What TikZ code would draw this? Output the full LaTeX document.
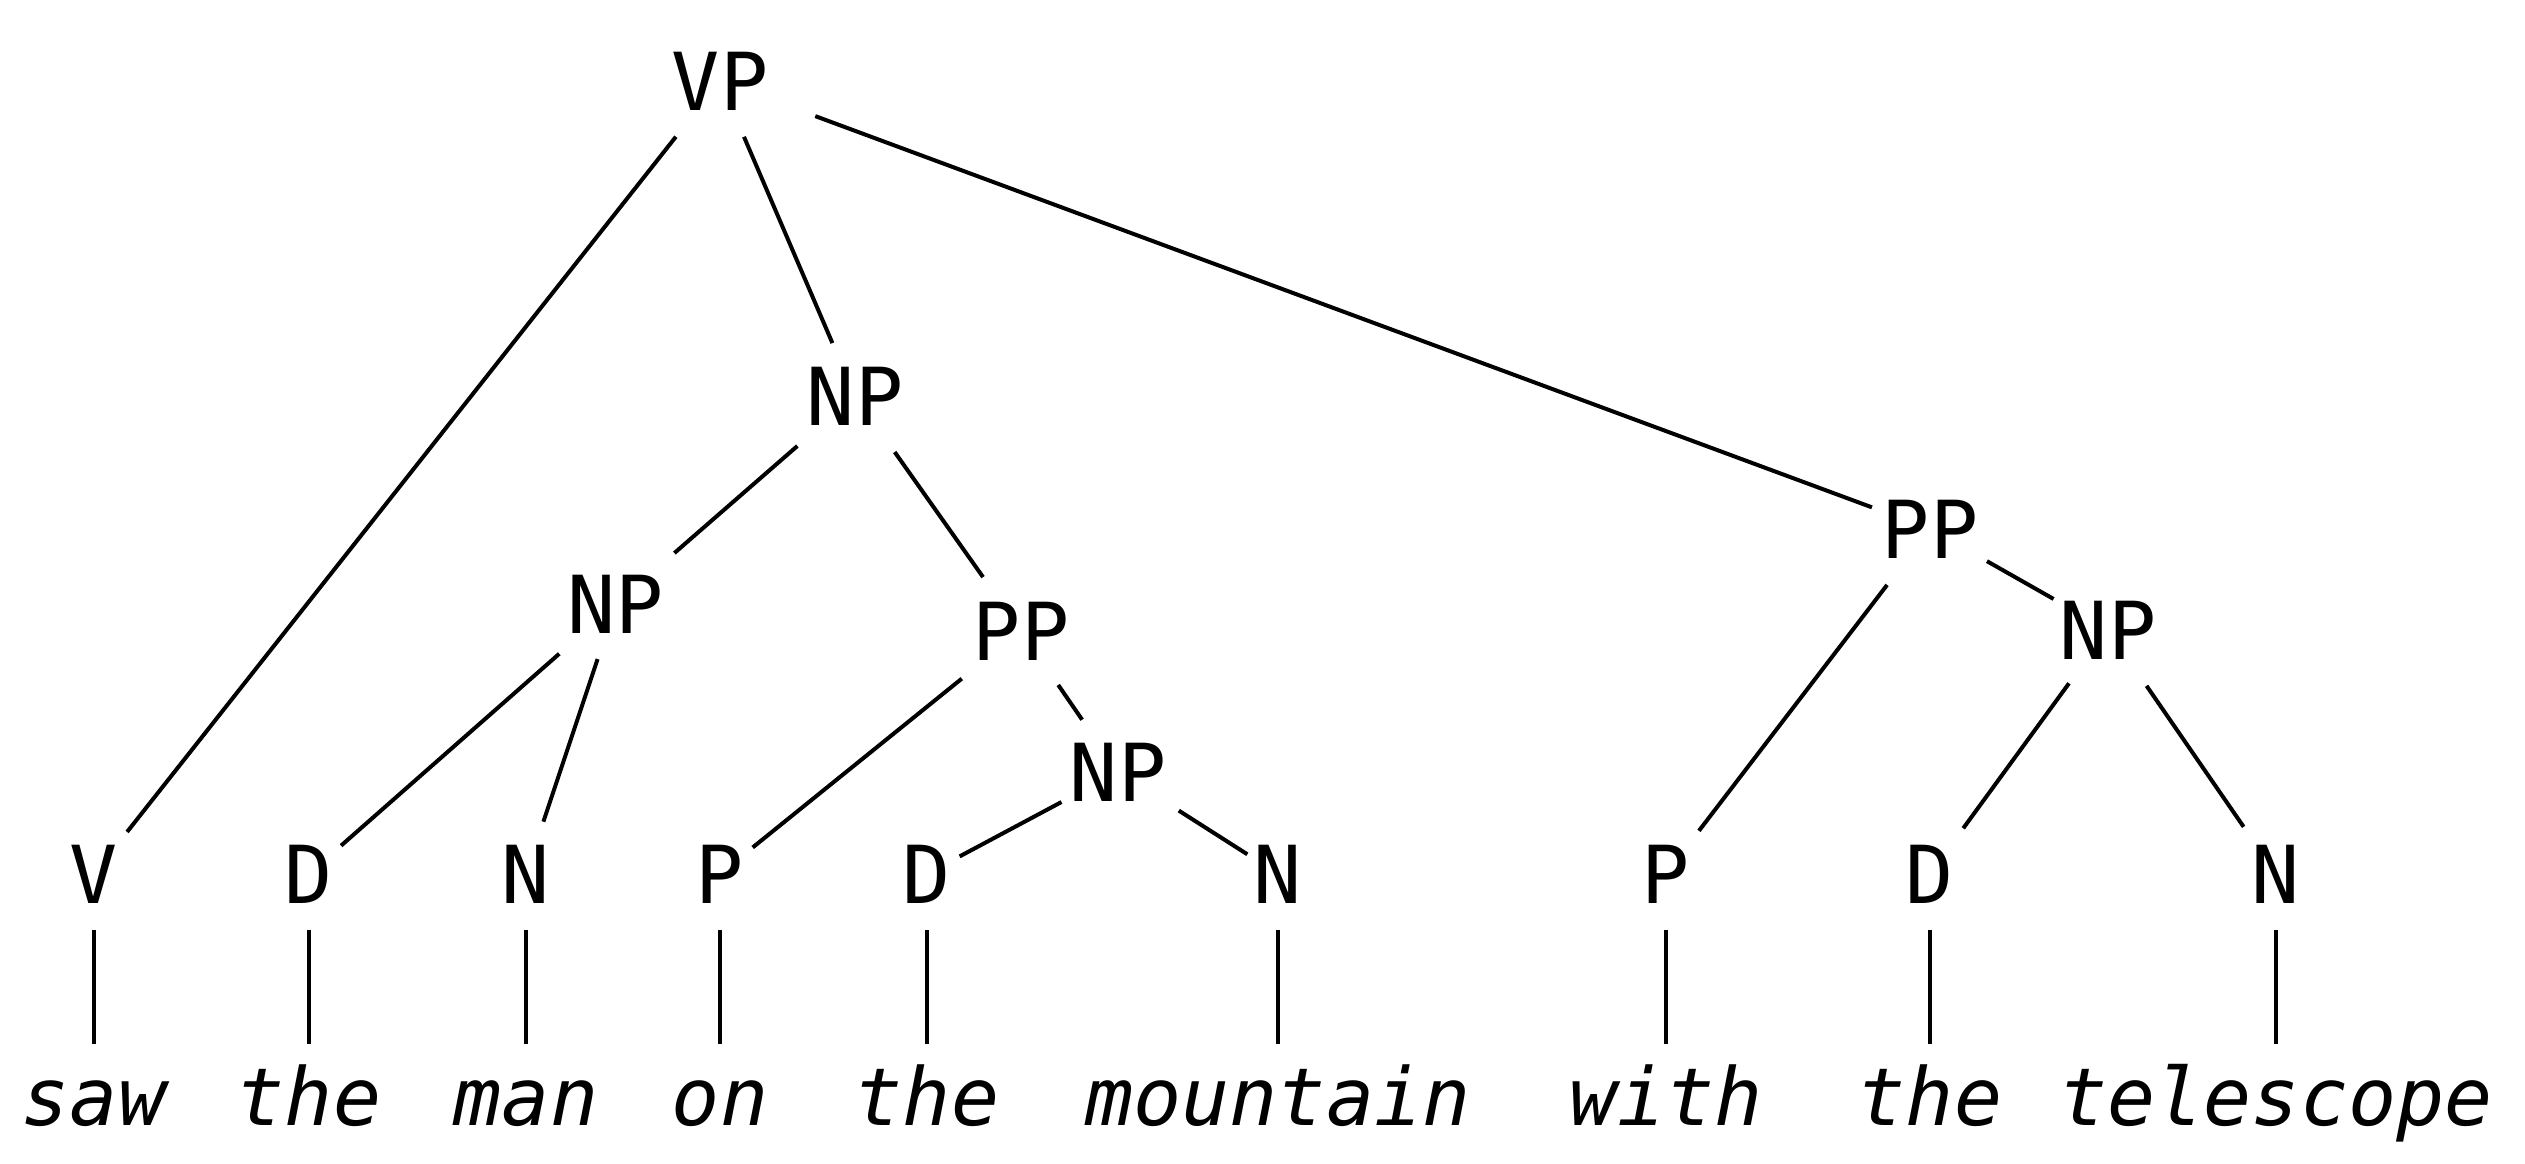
\documentclass[tikz,border=0pt]{standalone}
\usepackage{fontspec}
\setmonofont{DejaVu Sans Mono}
\begin{document}
\begin{tikzpicture}[x=0.3pt,y=-0.3pt,
  lab/.style={font=\ttfamily\fontsize{24pt}{28pt}\selectfont, inner sep=0pt, anchor=base},
  word/.style={font=\ttfamily\itshape\fontsize{24pt}{28pt}\selectfont, inner sep=0pt, anchor=base},
  edge/.style={line width=1.2pt, line cap=butt},
  leafedge/.style={edge, shorten <=16.8pt, shorten >=24.3pt}]
\useasboundingbox (0,0) rectangle (2525,1164);
% phrase nodes
\node[lab] (VP)  at (720,110) {VP};
\node[lab] (NPa) at (855,425) {NP};
\node[lab] (NPb) at (616,633) {NP};
\node[lab] (PPa) at (1021,660) {PP};
\node[lab] (NPc) at (1118,801) {NP};
\node[lab] (PPb) at (1930,558) {PP};
\node[lab] (NPd) at (2108,659) {NP};
% preterminals
\node[lab] (V)  at (94,903) {V};
\node[lab] (Da) at (309,903) {D};
\node[lab] (Na) at (526,903) {N};
\node[lab] (Pa) at (720,903) {P};
\node[lab] (Db) at (927,903) {D};
\node[lab] (Nb) at (1278,903) {N};
\node[lab] (Pb) at (1666,903) {P};
\node[lab] (Dc) at (1930,903) {D};
\node[lab] (Nc) at (2276,903) {N};
% words
\node[word] (w1) at (94,1125) {saw};
\node[word] (w2) at (309,1125) {the};
\node[word] (w3) at (526,1125) {man};
\node[word] (w4) at (720,1125) {on};
\node[word] (w5) at (927,1125) {the};
\node[word] (w6) at (1278,1125) {mountain};
\node[word] (w7) at (1666,1125) {with};
\node[word] (w8) at (1930,1125) {the};
\node[word] (w9) at (2276,1125) {telescope};
% edges
\draw[edge, shorten <=21.36pt, shorten >=16.02pt] (VP.center) -- (V.center);
\draw[edge, shorten <=18.27pt, shorten >=17.22pt] (VP.center) -- (NPa.center);
\draw[edge, shorten <=30.48pt, shorten >=18.57pt] (VP.center) -- (PPb.center);
\draw[edge, shorten <=22.92pt, shorten >=23.22pt] (NPa.center) -- (NPb.center);
\draw[edge, shorten <=20.64pt, shorten >=19.74pt] (NPa.center) -- (PPa.center);
\draw[edge, shorten <=22.68pt, shorten >=12.81pt] (NPb.center) -- (Da.center);
\draw[edge, shorten <=17.46pt, shorten >=16.5pt] (NPb.center) -- (Na.center);
\draw[edge, shorten <=22.83pt, shorten >=12.6pt] (PPa.center) -- (Pa.center);
\draw[edge, shorten <=19.71pt, shorten >=18.99pt] (PPa.center) -- (NPc.center);
\draw[edge, shorten <=19.23pt, shorten >=11.1pt] (NPc.center) -- (Db.center);
\draw[edge, shorten <=21.63pt, shorten >=10.92pt] (NPc.center) -- (Nb.center);
\draw[edge, shorten <=21.18pt, shorten >=16.26pt] (PPb.center) -- (Pb.center);
\draw[edge, shorten <=19.65pt, shorten >=18.78pt] (PPb.center) -- (NPd.center);
\draw[edge, shorten <=19.86pt, shorten >=16.92pt] (NPd.center) -- (Dc.center);
\draw[edge, shorten <=20.4pt, shorten >=17.13pt] (NPd.center) -- (Nc.center);
% leaf edges
\draw[leafedge] (V.center) -- (V.center |- w1.base);
\draw[leafedge] (Da.center) -- (Da.center |- w2.base);
\draw[leafedge] (Na.center) -- (Na.center |- w3.base);
\draw[leafedge] (Pa.center) -- (Pa.center |- w4.base);
\draw[leafedge] (Db.center) -- (Db.center |- w5.base);
\draw[leafedge] (Nb.center) -- (Nb.center |- w6.base);
\draw[leafedge] (Pb.center) -- (Pb.center |- w7.base);
\draw[leafedge] (Dc.center) -- (Dc.center |- w8.base);
\draw[leafedge] (Nc.center) -- (Nc.center |- w9.base);
\end{tikzpicture}
\end{document}
